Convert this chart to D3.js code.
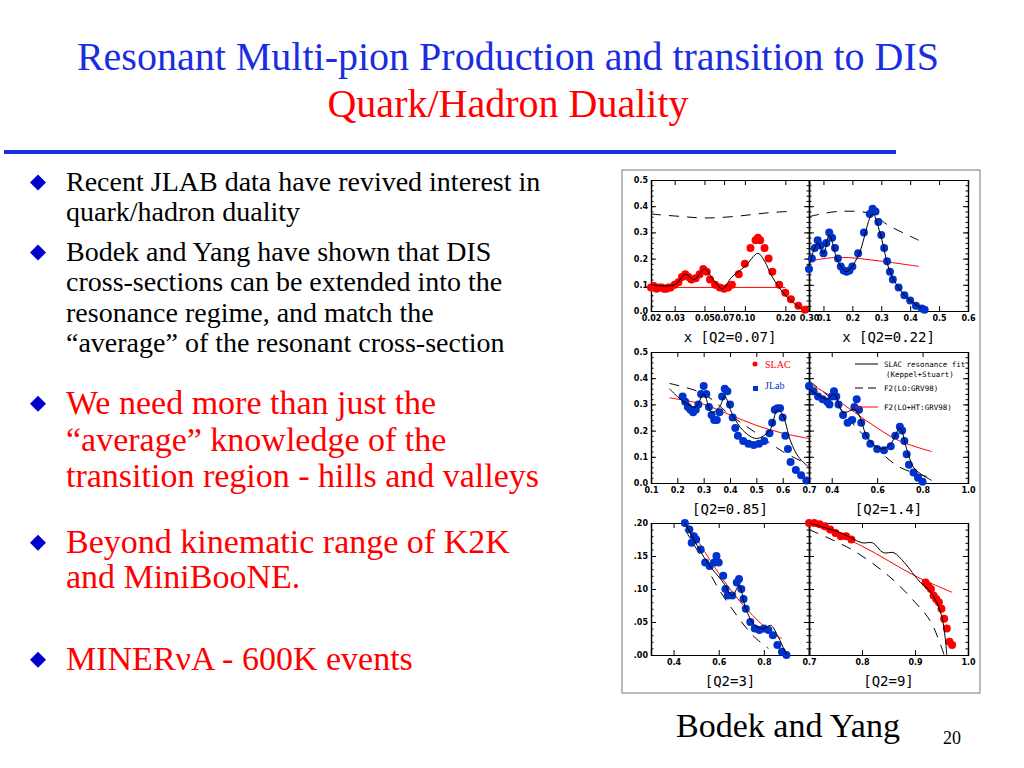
<!DOCTYPE html>
<html><head><meta charset="utf-8">
<script src="https://cdn.jsdelivr.net/npm/d3@7.9.0/dist/d3.min.js"></script>
<style>
body{margin:0;background:#fff}
.tk text{font-family:"DejaVu Sans",sans-serif;font-size:8px;font-weight:bold}
</style></head><body>
<svg id="s" width="1024" height="768" font-family="Liberation Serif, serif"></svg>
<script>
// ---- slide text
const bulletsBlack = [
  ["Recent JLAB data have revived interest in", "quark/hadron duality"],
  ["Bodek and Yang have shown that DIS", "cross-sections can be extended into the", "resonance regime, and match the", "\u201caverage\u201d of the resonant cross-section"]
];
const bulletsRed = [
  ["We need more than just the", "\u201caverage\u201d knowledge of the", "transition region - hills and valleys"],
  ["Beyond kinematic range of K2K", "and MiniBooNE."],
  ["MINER\u03bdA - 600K events"]
];

// ---- panel data [x, y]
const p1Data = [[0.020,0.09],[0.021,0.095],[0.022,0.085],[0.023,0.09],[0.024,0.09],[0.025,0.085],[0.026,0.085],[0.027,0.09],[0.028,0.09],[0.030,0.10],[0.032,0.11],[0.034,0.13],[0.036,0.14],[0.038,0.13],[0.040,0.12],[0.043,0.125],[0.046,0.14],[0.049,0.16],[0.052,0.15],[0.055,0.12],[0.060,0.10],[0.065,0.09],[0.070,0.085],[0.075,0.09],[0.080,0.10],[0.090,0.14],[0.100,0.18],[0.110,0.24],[0.120,0.27],[0.125,0.28],[0.130,0.27],[0.140,0.24],[0.150,0.20],[0.160,0.15],[0.180,0.10],[0.200,0.07],[0.220,0.045],[0.250,0.02],[0.280,0.005]];
const p1Fit = [[0.02,0.10],[0.03,0.10],[0.036,0.14],[0.042,0.12],[0.05,0.16],[0.058,0.12],[0.068,0.085],[0.08,0.13],[0.10,0.17],[0.125,0.22],[0.14,0.19],[0.16,0.13],[0.20,0.06],[0.26,0.01]];
const p1Lo = [[0.02,0.37],[0.035,0.36],[0.05,0.355],[0.08,0.36],[0.15,0.375],[0.21,0.38]];
const p1Ht = [[0.025,0.09],[0.2,0.09]];

const p2Data = [[0.05,0.16],[0.06,0.2],[0.07,0.24],[0.08,0.27],[0.09,0.25],[0.10,0.22],[0.11,0.26],[0.12,0.30],[0.13,0.28],[0.14,0.24],[0.15,0.20],[0.16,0.17],[0.17,0.155],[0.18,0.15],[0.19,0.155],[0.20,0.17],[0.22,0.22],[0.24,0.30],[0.26,0.37],[0.27,0.39],[0.28,0.38],[0.29,0.34],[0.30,0.29],[0.31,0.24],[0.32,0.19],[0.33,0.15],[0.34,0.12],[0.36,0.09],[0.38,0.06],[0.40,0.04],[0.42,0.02],[0.44,0.01],[0.45,0.005]];
const p2Fit = [[0.05,0.17],[0.08,0.26],[0.10,0.22],[0.12,0.29],[0.15,0.19],[0.18,0.15],[0.22,0.21],[0.27,0.37],[0.30,0.28],[0.33,0.15],[0.38,0.06],[0.44,0.01]];
const p2Lo = [[0.05,0.36],[0.15,0.38],[0.27,0.37],[0.32,0.33],[0.43,0.27]];
const p2Ht = [[0.05,0.19],[0.15,0.205],[0.30,0.19],[0.43,0.17]];

const p3Data = [[0.22,0.33],[0.23,0.31],[0.24,0.29],[0.25,0.28],[0.26,0.27],[0.27,0.28],[0.28,0.30],[0.29,0.34],[0.30,0.37],[0.31,0.34],[0.32,0.29],[0.33,0.26],[0.34,0.24],[0.35,0.24],[0.36,0.27],[0.37,0.33],[0.38,0.36],[0.39,0.35],[0.40,0.30],[0.41,0.25],[0.42,0.21],[0.43,0.18],[0.45,0.16],[0.47,0.15],[0.49,0.145],[0.51,0.15],[0.53,0.16],[0.55,0.19],[0.56,0.23],[0.57,0.28],[0.58,0.285],[0.59,0.285],[0.60,0.25],[0.61,0.18],[0.62,0.13],[0.63,0.08],[0.65,0.05],[0.67,0.03],[0.69,0.01]];
const p3Fit = [[0.17,0.36],[0.20,0.33],[0.24,0.30],[0.27,0.29],[0.30,0.34],[0.33,0.27],[0.36,0.29],[0.38,0.33],[0.41,0.26],[0.45,0.20],[0.50,0.17],[0.55,0.20],[0.58,0.28],[0.60,0.26],[0.63,0.16],[0.66,0.10],[0.70,0.06]];
const p3Lo = [[0.17,0.38],[0.30,0.34],[0.40,0.26],[0.50,0.19],[0.60,0.12],[0.70,0.07]];
const p3Ht = [[0.17,0.325],[0.30,0.30],[0.40,0.26],[0.50,0.22],[0.60,0.19],[0.70,0.17]];

const p4Data = [[0.30,0.37],[0.32,0.35],[0.34,0.33],[0.36,0.32],[0.38,0.31],[0.39,0.30],[0.40,0.33],[0.41,0.35],[0.42,0.33],[0.43,0.30],[0.45,0.26],[0.47,0.23],[0.49,0.24],[0.50,0.29],[0.51,0.32],[0.52,0.28],[0.53,0.23],[0.55,0.18],[0.57,0.15],[0.60,0.13],[0.63,0.125],[0.66,0.14],[0.68,0.18],[0.70,0.215],[0.71,0.20],[0.72,0.16],[0.73,0.11],[0.74,0.07],[0.76,0.04],[0.78,0.02],[0.80,0.005]];
const p4Fit = [[0.30,0.36],[0.38,0.32],[0.41,0.34],[0.45,0.27],[0.50,0.28],[0.52,0.26],[0.56,0.17],[0.62,0.13],[0.66,0.15],[0.70,0.21],[0.73,0.13],[0.76,0.06],[0.80,0.03],[0.84,0.01]];
const p4Lo = [[0.30,0.39],[0.40,0.32],[0.50,0.22],[0.60,0.13],[0.70,0.06],[0.84,0.02]];
const p4Ht = [[0.30,0.38],[0.40,0.33],[0.50,0.27],[0.60,0.21],[0.70,0.16],[0.84,0.12]];

const p5Data = [[0.45,0.20],[0.47,0.19],[0.48,0.17],[0.49,0.18],[0.50,0.175],[0.52,0.16],[0.54,0.14],[0.56,0.135],[0.58,0.14],[0.59,0.15],[0.60,0.14],[0.62,0.12],[0.63,0.10],[0.64,0.09],[0.66,0.09],[0.68,0.11],[0.69,0.115],[0.70,0.10],[0.71,0.085],[0.72,0.07],[0.74,0.05],[0.76,0.04],[0.78,0.038],[0.80,0.04],[0.82,0.038],[0.84,0.03],[0.86,0.015],[0.88,0.005],[0.90,0.0]];
const p5Fit = [[0.45,0.20],[0.55,0.14],[0.62,0.11],[0.66,0.09],[0.69,0.105],[0.72,0.07],[0.76,0.045],[0.80,0.04],[0.83,0.045],[0.86,0.03],[0.90,0.0]];
const p5Lo = [[0.45,0.19],[0.52,0.15],[0.60,0.10],[0.68,0.06],[0.75,0.03],[0.82,0.01]];
const p5Ht = [[0.46,0.20],[0.55,0.15],[0.65,0.10],[0.75,0.06],[0.85,0.03],[0.88,0.025]];

const p6Data = [[0.70,0.20],[0.71,0.20],[0.72,0.198],[0.73,0.195],[0.74,0.19],[0.75,0.185],[0.76,0.18],[0.77,0.18],[0.78,0.175],[0.92,0.11],[0.925,0.105],[0.93,0.10],[0.935,0.09],[0.94,0.085],[0.945,0.08],[0.95,0.07],[0.955,0.055],[0.96,0.04],[0.965,0.02],[0.97,0.015]];
const p6Fit = [[0.70,0.20],[0.76,0.185],[0.80,0.17],[0.82,0.17],[0.84,0.155],[0.86,0.155],[0.88,0.14],[0.91,0.11],[0.93,0.095],[0.95,0.06],[0.96,0.0]];
const p6Lo = [[0.70,0.19],[0.78,0.16],[0.85,0.12],[0.90,0.08],[0.93,0.05],[0.955,0.0]];
const p6Ht = [[0.70,0.20],[0.80,0.165],[0.90,0.12],[0.97,0.095]];

const svg = d3.select('#s');
const BLUE = '#0033cc', RED = '#ff0000', SERIF = 'Liberation Serif, serif';

// title
svg.append('text').attr('x', 508).attr('y', 70).attr('text-anchor', 'middle').attr('font-family', SERIF)
  .attr('font-size', 40).attr('fill', '#1a2ee0').text('Resonant Multi-pion Production and transition to DIS');
svg.append('text').attr('x', 508).attr('y', 117).attr('text-anchor', 'middle').attr('font-family', SERIF)
  .attr('font-size', 40).attr('fill', RED).text('Quark/Hadron Duality');
svg.append('rect').attr('x', 4).attr('y', 150).attr('width', 892).attr('height', 4).attr('fill', '#1a2ee0');

function diamond(x, y) {
  svg.append('path').attr('d', `M${x},${y-8}L${x+8},${y}L${x},${y+8}L${x-8},${y}Z`).attr('fill', '#0000cc');
}
function bullet(lines, y0, step, size, color) {
  diamond(38, y0 - size * 0.3);
  lines.forEach((l, i) => svg.append('text').attr('x', 66).attr('y', y0 + i * step)
    .attr('font-family', SERIF).attr('font-size', size).attr('fill', color).text(l));
}
bullet(bulletsBlack[0], 191, 30, 28, '#000');
bullet(bulletsBlack[1], 261, 30.3, 28, '#000');
bullet(bulletsRed[0], 414, 36.5, 34, RED);
bullet(bulletsRed[1], 553, 35, 34, RED);
bullet(bulletsRed[2], 670, 35, 34, RED);

svg.append('text').attr('x', 788).attr('y', 737).attr('text-anchor', 'middle').attr('font-family', SERIF).attr('font-size', 34).text('Bodek and Yang');
svg.append('text').attr('x', 952).attr('y', 744).attr('text-anchor', 'middle').attr('font-family', SERIF).attr('font-size', 18).text('20');

// figure frame
svg.append('rect').attr('x', 622).attr('y', 170).attr('width', 358).attr('height', 523)
  .attr('fill', 'none').attr('stroke', '#777').attr('stroke-width', 1);

const colL = [651, 809], colR = [809, 968];
const rows = [[180, 311], [352, 483], [523, 655]];

function panel(o) {
  const x = (o.log ? d3.scaleLog() : d3.scaleLinear()).domain(o.xd).range(o.xr);
  const y = d3.scaleLinear().domain(o.yd).range([o.yr[1], o.yr[0]]);
  const g = svg.append('g');
  g.append('g').attr('class', 'tk').attr('transform', `translate(0,${o.yr[1]})`)
    .call(d3.axisBottom(x).tickValues(o.xt).tickFormat(o.xf).tickSize(-5).tickPadding(4));
  g.append('g').attr('transform', `translate(0,${o.yr[0]})`)
    .call(d3.axisTop(x).tickValues(o.xt).tickFormat('').tickSize(-5));
  g.append('g').attr('class', 'tk').attr('transform', `translate(${o.xr[0]},0)`)
    .call(d3.axisLeft(y).ticks(5).tickFormat(o.yl ? o.yf : '').tickSize(-5).tickPadding(3));
  g.append('g').attr('transform', `translate(${o.xr[1]},0)`)
    .call(d3.axisRight(y).ticks(5).tickFormat('').tickSize(-5));
  g.append('g').attr('transform', `translate(${o.xr[0]},0)`)
    .call(d3.axisLeft(y).ticks(25).tickFormat('').tickSize(-2.5));
  g.append('g').attr('transform', `translate(${o.xr[1]},0)`)
    .call(d3.axisRight(y).ticks(25).tickFormat('').tickSize(-2.5));
  g.selectAll('.domain').attr('stroke', '#000').attr('stroke-width', 1.2);
  const line = d3.line().x(d => x(d[0])).y(d => y(d[1])).curve(d3.curveCatmullRom);
  g.append('path').attr('d', line(o.lo)).attr('fill', 'none').attr('stroke', '#000')
    .attr('stroke-width', 1).attr('stroke-dasharray', '10,8');
  g.append('path').attr('d', line(o.ht)).attr('fill', 'none').attr('stroke', RED).attr('stroke-width', 1);
  g.selectAll('circle').data(o.data).join('circle')
    .attr('cx', d => x(d[0])).attr('cy', d => y(d[1])).attr('r', 4).attr('fill', o.color);
  g.append('path').attr('d', line(o.fit)).attr('fill', 'none').attr('stroke', '#000').attr('stroke-width', 1);
  if (o.title) svg.append('text').attr('x', (o.xr[0] + o.xr[1]) / 2).attr('y', o.yr[1] + 31)
    .attr('text-anchor', 'middle').attr('font-family', 'DejaVu Sans Mono, monospace')
    .attr('font-size', 14).text(o.title);
  return { x, y };
}
const f1 = d3.format('.1f'), f2 = d3.format('.2f');
panel({ log: true, xd: [0.02, 0.3], xr: colL, yd: [0, 0.5], yr: rows[0], xt: [0.02, 0.03, 0.05, 0.07, 0.1, 0.2, 0.3], xf: f2,
  yl: true, yf: f1, data: p1Data, fit: p1Fit, lo: p1Lo, ht: p1Ht, color: RED, title: 'x [Q2=0.07]' });
panel({ xd: [0.05, 0.6], xr: colR, yd: [0, 0.5], yr: rows[0], xt: [0.1, 0.2, 0.3, 0.4, 0.5, 0.6], xf: f1,
  data: p2Data, fit: p2Fit, lo: p2Lo, ht: p2Ht, color: BLUE, title: 'x [Q2=0.22]' });
panel({ xd: [0.1, 0.7], xr: colL, yd: [0, 0.5], yr: rows[1], xt: [0.1, 0.2, 0.3, 0.4, 0.5, 0.6, 0.7], xf: f1,
  yl: true, yf: f1, data: p3Data, fit: p3Fit, lo: p3Lo, ht: p3Ht, color: BLUE, title: '[Q2=0.85]' });
panel({ xd: [0.3, 1.0], xr: colR, yd: [0, 0.5], yr: rows[1], xt: [0.4, 0.6, 0.8, 1.0], xf: f1,
  data: p4Data, fit: p4Fit, lo: p4Lo, ht: p4Ht, color: BLUE, title: '[Q2=1.4]' });
panel({ xd: [0.3, 1.0], xr: colL, yd: [0, 0.2], yr: rows[2], xt: [0.4, 0.6, 0.8], xf: f1,
  yl: true, yf: d => d3.format('.2f')(d).replace(/^0/, ''), data: p5Data, fit: p5Fit, lo: p5Lo, ht: p5Ht, color: BLUE, title: '[Q2=3]' });
panel({ xd: [0.7, 1.0], xr: colR, yd: [0, 0.2], yr: rows[2], xt: [0.7, 0.8, 0.9, 1.0], xf: f1,
  data: p6Data, fit: p6Fit, lo: p6Lo, ht: p6Ht, color: RED, title: '[Q2=9]' });

// legends
svg.append('circle').attr('cx', 755).attr('cy', 364).attr('r', 2.5).attr('fill', RED);
svg.append('text').attr('x', 765).attr('y', 368).attr('font-family', SERIF).attr('font-size', 10).attr('fill', RED).text('SLAC');
svg.append('rect').attr('x', 753).attr('y', 386).attr('width', 5).attr('height', 5).attr('fill', BLUE);
svg.append('text').attr('x', 765).attr('y', 389).attr('font-family', SERIF).attr('font-size', 10).attr('fill', BLUE).text('JLab');
const leg = [
  { y: 367, dash: null, col: '#000', t: ['SLAC resonance fit', '(Keppel+Stuart)'] },
  { y: 391, dash: '8,5', col: '#000', t: ['F2(LO:GRV98)'] },
  { y: 410, dash: null, col: RED, t: ['F2(LO+HT:GRV98)'] }
];
leg.forEach(l => {
  svg.append('line').attr('x1', 855).attr('x2', 878).attr('y1', l.y - 3).attr('y2', l.y - 3)
    .attr('stroke', l.col).attr('stroke-dasharray', l.dash);
  l.t.forEach((s, i) => svg.append('text').attr('x', 884 + (i ? 2 : 0)).attr('y', l.y + i * 10)
    .attr('font-family', 'DejaVu Sans Mono, monospace').attr('font-size', 7.5).text(s));
});
</script></body></html>
